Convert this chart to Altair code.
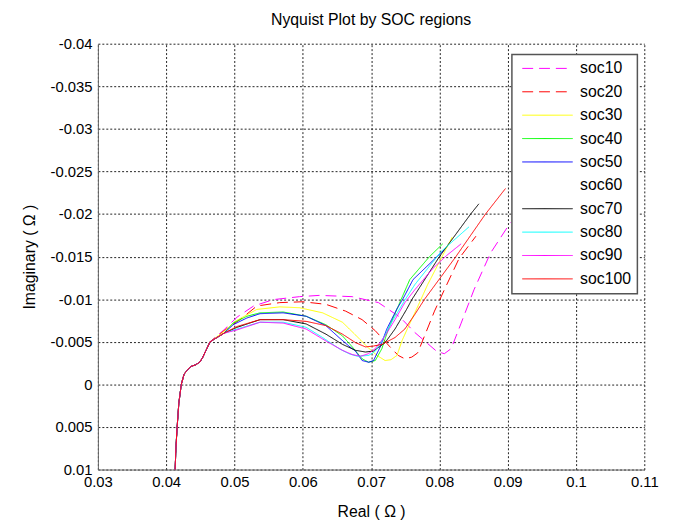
import altair as alt
import pandas as pd

# ---- legend / style categories ----
series_names = ["soc10", "soc20", "soc30", "soc40", "soc50",
                "soc60", "soc70", "soc80", "soc90", "soc100"]
series_colors = ["#ff00ff", "#ff0000", "#ffff00", "#00ff00", "#0000ff",
                 "#ffffff", "#000000", "#00ffff", "#ff00ff", "#ff0000"]
series_dashes = [[11, 6], [11, 6], [1, 0], [1, 0], [1, 0],
                 [1, 0], [1, 0], [1, 0], [1, 0], [1, 0]]

# ---- common high-frequency tail shared by all curves ----
trunk_re = [0.04131, 0.04142, 0.04160, 0.04185, 0.04221, 0.04262, 0.04320,
            0.04363, 0.04430, 0.04490, 0.04530, 0.04642]
trunk_im = [0.0100, 0.0075, 0.0050, 0.0022, 0.0000, -0.0012, -0.0018,
            -0.0021, -0.0023, -0.0026, -0.0031, -0.0050]

# ---- per-SOC branches (Real, Imaginary) ----
soc10_re = [0.04845, 0.05038, 0.05279, 0.05568, 0.05952, 0.06241, 0.06724, 0.07108,
            0.07422, 0.07639, 0.07812, 0.07957, 0.08072, 0.08173, 0.08314, 0.08506,
            0.08747, 0.09040]
soc10_im = [-0.0064, -0.0079, -0.0092, -0.00995, -0.0103, -0.01045, -0.0103, -0.0096,
            -0.0079, -0.0061, -0.0049, -0.0039, -0.0036, -0.0042, -0.0071, -0.0111,
            -0.0154, -0.0190]

soc20_re = [0.04845, 0.05081, 0.05327, 0.05663, 0.06001, 0.06338, 0.06627, 0.06868,
            0.07061, 0.07277, 0.07397, 0.07494, 0.07595, 0.07682, 0.07783, 0.07928,
            0.08072, 0.08289, 0.08535]
soc20_im = [-0.0063, -0.0076, -0.0092, -0.0096, -0.0097, -0.0094, -0.0086, -0.0076,
            -0.0063, -0.0044, -0.0034, -0.0030, -0.0032, -0.0037, -0.0057, -0.0086,
            -0.0111, -0.0148, -0.0174]

soc30_re = [0.04845, 0.05009, 0.05327, 0.05663, 0.05952, 0.06290, 0.06580, 0.06772,
            0.06945, 0.07085, 0.07205, 0.07292, 0.07379, 0.07451, 0.07552, 0.07686,
            0.07827, 0.08000, 0.08188]
soc30_im = [-0.0062, -0.0074, -0.0088, -0.0091, -0.0090, -0.0084, -0.0073, -0.0058,
            -0.0044, -0.0034, -0.0028, -0.0029, -0.0034, -0.0051, -0.0069, -0.0092,
            -0.0117, -0.0144, -0.0173]

soc40_re = [0.04845, 0.04980, 0.05182, 0.05374, 0.05712, 0.06049, 0.06338, 0.06580,
            0.06724, 0.06869, 0.06964, 0.07061, 0.07158, 0.07253, 0.07398, 0.07566,
            0.07855, 0.08048]
soc40_im = [-0.0060, -0.0072, -0.0080, -0.0084, -0.0085, -0.0080, -0.0070, -0.0057,
            -0.0044, -0.0030, -0.0026, -0.0028, -0.0042, -0.0065, -0.0092, -0.0123,
            -0.0150, -0.0165]

soc50_re = [0.04845, 0.04980, 0.05182, 0.05374, 0.05712, 0.06049, 0.06338, 0.06530,
            0.06675, 0.06772, 0.06869, 0.06964, 0.07036, 0.07133, 0.07230, 0.07374,
            0.07470, 0.07614, 0.07952, 0.08072]
soc50_im = [-0.0060, -0.0070, -0.0078, -0.0083, -0.0084, -0.0080, -0.0069, -0.0055,
            -0.0045, -0.0039, -0.0028, -0.0026, -0.0028, -0.0044, -0.0065, -0.0088,
            -0.0101, -0.0123, -0.0149, -0.0158]

soc70_re = [0.04845, 0.05038, 0.05374, 0.05712, 0.06049, 0.06338, 0.06580, 0.06772,
            0.06916, 0.07032, 0.07205, 0.07350, 0.07519, 0.07600, 0.08000, 0.08458,
            0.08578]
soc70_im = [-0.0060, -0.0067, -0.0076, -0.0076, -0.0071, -0.0059, -0.0047, -0.0040,
            -0.0038, -0.0039, -0.0049, -0.0065, -0.0088, -0.0100, -0.0150, -0.0200,
            -0.0212]

soc80_re = [0.04845, 0.05038, 0.05374, 0.05712, 0.06049, 0.06290, 0.06530, 0.06675,
            0.06801, 0.06964, 0.07061, 0.07158, 0.07302, 0.07494, 0.07639, 0.08025,
            0.08434]
soc80_im = [-0.0060, -0.0065, -0.0073, -0.0073, -0.0067, -0.0055, -0.0042, -0.0036,
            -0.0033, -0.0034, -0.0039, -0.0051, -0.0073, -0.0099, -0.0117, -0.0156,
            -0.0185]

soc90_re = [0.04845, 0.05038, 0.05374, 0.05712, 0.06049, 0.06338, 0.06580, 0.06724,
            0.06844, 0.06960, 0.07061, 0.07205, 0.07350, 0.07494, 0.07639, 0.07903,
            0.08101, 0.08318]
soc90_im = [-0.0060, -0.0064, -0.0073, -0.0072, -0.0065, -0.0051, -0.0040, -0.0035,
            -0.0033, -0.0036, -0.0042, -0.0057, -0.0076, -0.0096, -0.0111, -0.0136,
            -0.0151, -0.0165]

soc100_re = [0.04845, 0.05038, 0.05374, 0.05712, 0.06049, 0.06338, 0.06580, 0.06772,
             0.06916, 0.07036, 0.07158, 0.07350, 0.07494, 0.07639, 0.07783, 0.08241,
             0.08675, 0.08968]
soc100_im = [-0.0060, -0.0068, -0.0076, -0.0076, -0.0074, -0.0069, -0.0059, -0.0049,
             -0.0044, -0.0045, -0.0047, -0.0055, -0.0065, -0.0082, -0.0100, -0.0150,
             -0.0200, -0.0230]

x_ticks = [0.03, 0.04, 0.05, 0.06, 0.07, 0.08, 0.09, 0.1, 0.11]
y_ticks = [-0.04, -0.035, -0.03, -0.025, -0.02, -0.015, -0.01, -0.005, 0, 0.005, 0.01]

branches = {
    "soc10": (soc10_re, soc10_im),
    "soc20": (soc20_re, soc20_im),
    "soc30": (soc30_re, soc30_im),
    "soc40": (soc40_re, soc40_im),
    "soc50": (soc50_re, soc50_im),
    "soc70": (soc70_re, soc70_im),
    "soc80": (soc80_re, soc80_im),
    "soc90": (soc90_re, soc90_im),
    "soc100": (soc100_re, soc100_im),
}

rows = []
for name, (re_b, im_b) in branches.items():
    xs = trunk_re + re_b
    ys = trunk_im + im_b
    for i, (a, b) in enumerate(zip(xs, ys)):
        rows.append({"series": name, "re": a, "im": b, "idx": i})
df = pd.DataFrame(rows)

FONT = "Liberation Sans"

legend = alt.Legend(
    title=None, orient="none", legendX=419, legendY=11,
    symbolType="stroke", symbolSize=2601, symbolStrokeWidth=1,
    clipHeight=16, rowPadding=7.67, padding=6, symbolOffset=4,
    labelOffset=7, labelFontSize=16, labelFont=FONT, labelColor="#000",
    strokeColor="#555555", fillColor="#ffffff",
)

chart = alt.Chart(df).mark_line(strokeWidth=1).encode(
    x=alt.X("re:Q",
            scale=alt.Scale(domain=[0.03, 0.11], nice=False, zero=False),
            axis=alt.Axis(values=x_ticks, labelExpr="toString(datum.value)",
                          title="Real ( Ω )", titleY=43, titleBaseline="middle",
                          labelFlush=False, labelPadding=5)),
    y=alt.Y("im:Q",
            scale=alt.Scale(domain=[-0.04, 0.01], reverse=True, nice=False, zero=False),
            axis=alt.Axis(values=y_ticks, labelExpr="toString(datum.value)",
                          title="Imaginary ( Ω )", titleX=-69, titleY=215.5,
                          titleBaseline="middle", labelPadding=6)),
    color=alt.Color("series:N",
                    scale=alt.Scale(domain=series_names, range=series_colors),
                    legend=legend),
    strokeDash=alt.StrokeDash("series:N",
                              scale=alt.Scale(domain=series_names, range=series_dashes),
                              legend=legend),
    order=alt.Order("idx:Q"),
).properties(
    width=553, height=431,
    title="Nyquist Plot by SOC regions",
    autosize="none",
    padding={"left": 91, "top": 33, "right": 25, "bottom": 54},
).configure_view(
    stroke=None
).configure_axis(
    grid=True, gridColor="#222222", gridDash=[2, 2], gridWidth=1,
    domainColor="#666666", domainWidth=1, ticks=False,
    labelFont=FONT, labelFontSize=15, labelColor="#000",
    titleFont=FONT, titleFontSize=16, titleFontWeight="normal", titleColor="#000",
).configure_title(
    font=FONT, fontSize=16, fontWeight="normal", color="#000",
    anchor="middle", offset=9, baseline="alphabetic",
).configure_legend(
    strokeWidth=1.5
)

chart.save("out.html", embed_options={"renderer": "svg", "actions": False})
